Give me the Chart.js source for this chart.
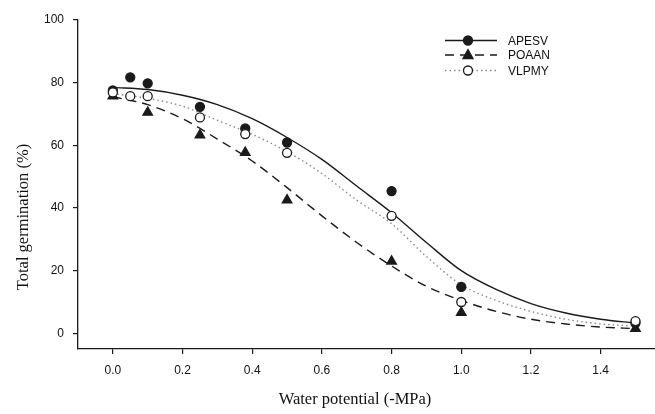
<!DOCTYPE html>
<html>
<head>
<meta charset="utf-8">
<script src="https://cdn.jsdelivr.net/npm/chart.js@4"></script>
<style>
  html, body { margin: 0; padding: 0; background: #fff; }
  #wrap { width: 655px; height: 414px; }
</style>
</head>
<body>
<div id="wrap"><canvas id="chart" width="655" height="414"></canvas></div>
<script>
// observed points
const apesvX = [0, 0.05, 0.1, 0.25, 0.38, 0.5, 0.8, 1.0, 1.5];
const apesvY = [77.5, 81.7, 79.8, 72.3, 65.4, 60.9, 45.4, 14.8, 3.3];
const poaanX = [0, 0.1, 0.25, 0.38, 0.5, 0.8, 1.0, 1.5];
const poaanY = [75.7, 70.5, 63.3, 57.7, 42.5, 23.0, 6.6, 1.5];
const vlpmyX = [0, 0.05, 0.1, 0.25, 0.38, 0.5, 0.8, 1.0, 1.5];
const vlpmyY = [76.9, 75.7, 75.7, 68.9, 63.6, 57.6, 37.5, 10.0, 3.9];

// fitted curves
const curveX = [0, 0.1, 0.2, 0.3, 0.4, 0.5, 0.6, 0.7, 0.8, 0.9, 1.0, 1.1, 1.2, 1.3, 1.4, 1.5];
const apesvFit = [78.5, 77.8, 76, 73, 68.5, 62.5, 55.5, 47, 38.5, 29, 20, 14, 9.5, 6.5, 4.5, 3.3];
const poaanFit = [75.5, 73, 68.5, 62, 55, 46.5, 37.5, 29, 21.5, 15, 10.5, 7, 4.5, 3, 2, 1.5];
const vlpmyFit = [76.5, 75, 72.5, 68, 63.5, 58, 51, 42.5, 35, 24.5, 15.5, 10.5, 7, 4.5, 3, 2.3];

const seriesNames = ["APESV", "POAAN", "VLPMY"];
const xTicks = [0, 0.2, 0.4, 0.6, 0.8, 1.0, 1.2, 1.4];
const yTicks = [0, 20, 40, 60, 80, 100];

const pts = (xs, ys) => xs.map((x, i) => ({ x: x, y: ys[i] }));

const ink = "#1a1a1a";

const styles = [
  { line: ink, dash: [], marker: "circle", fill: ink },
  { line: ink, dash: [9, 6], marker: "triangle", fill: ink },
  { line: "#8a8a8a", dash: [1.5, 3], marker: "circle", fill: "#ffffff" },
];

const curveDs = (data, st, ord) => ({
  data: data, showLine: true, pointRadius: 0, borderColor: st.line,
  borderWidth: 1.4, borderDash: st.dash, cubicInterpolationMode: "monotone",
  fill: false, order: ord,
});
const pointDs = (data, st, ord) => ({
  data: data, showLine: false, pointStyle: st.marker,
  pointRadius: st.marker === "triangle" ? 5.5 : 4.5,
  pointBackgroundColor: st.fill, pointBorderColor: ink, pointBorderWidth: 1.3,
  order: ord,
});

// legend and axis titles drawn by hand
const extras = {
  id: "extras",
  afterDraw(chart) {
    const ctx = chart.ctx;
    ctx.save();
    const rows = [40.5, 55, 70.5];
    rows.forEach((y, i) => {
      const st = styles[i];
      ctx.strokeStyle = st.line;
      ctx.lineWidth = 1.4;
      ctx.setLineDash(st.dash);
      ctx.beginPath();
      ctx.moveTo(445, y);
      ctx.lineTo(497, y);
      ctx.stroke();
      ctx.setLineDash([]);
      ctx.fillStyle = st.fill;
      ctx.strokeStyle = ink;
      ctx.lineWidth = 1.3;
      ctx.beginPath();
      if (st.marker === "triangle") {
        ctx.moveTo(468, y - 5.5); ctx.lineTo(473, y + 3.5); ctx.lineTo(463, y + 3.5); ctx.closePath();
      } else {
        ctx.arc(468, y, 4.5, 0, Math.PI * 2);
      }
      ctx.fill(); ctx.stroke();
      ctx.fillStyle = "#111";
      ctx.font = "12px 'Liberation Sans', Arial, sans-serif";
      ctx.textAlign = "left";
      ctx.textBaseline = "middle";
      ctx.fillText(seriesNames[i], 508, y + 1);
    });

    ctx.fillStyle = "#111";
    ctx.font = "16.5px 'Liberation Serif', 'Times New Roman', serif";
    ctx.textAlign = "center";
    ctx.textBaseline = "middle";
    ctx.fillText("Water potential (-MPa)", 355, 400);
    ctx.translate(24, 217);
    ctx.rotate(-Math.PI / 2);
    ctx.fillText("Total germination (%)", 0, 0);
    ctx.restore();
  },
};

new Chart(document.getElementById("chart"), {
  type: "scatter",
  data: {
    datasets: [
      curveDs(pts(curveX, apesvFit), styles[0], 5),
      curveDs(pts(curveX, poaanFit), styles[1], 4),
      curveDs(pts(curveX, vlpmyFit), styles[2], 3),
      pointDs(pts(apesvX, apesvY), styles[0], 1),
      pointDs(pts(poaanX, poaanY), styles[1], 2),
      pointDs(pts(vlpmyX, vlpmyY), styles[2], 0),
    ],
  },
  options: {
    responsive: false,
    animation: false,
    layout: { autoPadding: false, padding: { top: 20, right: 0, left: 0, bottom: 0 } },
    plugins: { legend: { display: false }, tooltip: { enabled: false } },
    scales: {
      x: {
        type: "linear", min: -0.1, max: 1.556,
        afterBuildTicks: (axis) => { axis.ticks = xTicks.map(v => ({ value: v })); },
        afterFit: (scale) => { scale.height = 65; },
        border: { display: true, color: ink, width: 1.3 },
        grid: { drawOnChartArea: false, drawTicks: true, tickLength: 5, color: ink, lineWidth: 1.2 },
        ticks: {
          color: "#111", padding: 9,
          font: { family: "'Liberation Sans', Arial, sans-serif", size: 12 },
          callback: (v) => Number(v).toFixed(1),
        },
      },
      y: {
        type: "linear", min: -5, max: 100,
        afterBuildTicks: (axis) => { axis.ticks = yTicks.map(v => ({ value: v })); },
        afterFit: (scale) => { scale.width = 78; },
        border: { display: true, color: ink, width: 1.3 },
        grid: { drawOnChartArea: false, drawTicks: true, tickLength: 5, color: ink, lineWidth: 1.2 },
        ticks: {
          color: "#111", padding: 9,
          font: { family: "'Liberation Sans', Arial, sans-serif", size: 12 },
        },
      },
    },
  },
  plugins: [extras],
});
</script>
</body>
</html>
